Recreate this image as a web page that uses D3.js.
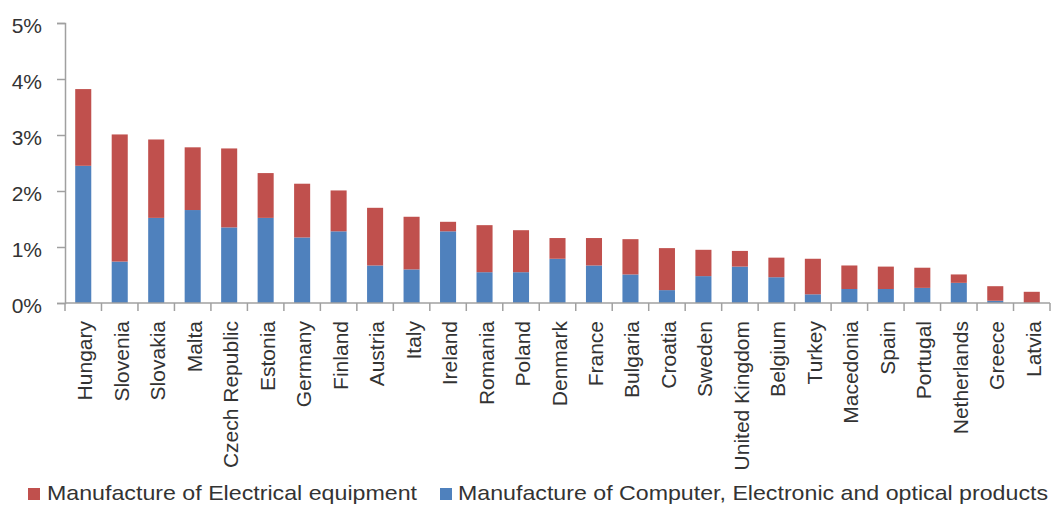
<!DOCTYPE html>
<html>
<head>
<meta charset="utf-8">
<script src="https://cdn.jsdelivr.net/npm/d3@7"></script>
<style>
  html, body { margin: 0; padding: 0; background: #fff; }
  svg { display: block; font-family: "Liberation Sans", Arial, sans-serif; }
</style>
</head>
<body>
<svg id="chart" width="1051" height="505"></svg>
<script>
// Countries, ordered by combined share
const countries = ["Hungary", "Slovenia", "Slovakia", "Malta", "Czech Republic", "Estonia", "Germany",
  "Finland", "Austria", "Italy", "Ireland", "Romania", "Poland", "Denmark", "France", "Bulgaria",
  "Croatia", "Sweden", "United Kingdom", "Belgium", "Turkey", "Macedonia", "Spain", "Portugal",
  "Netherlands", "Greece", "Latvia"];

// Manufacture of Computer, Electronic and optical products (% share)
const computerElectronic = [2.45, 0.74, 1.52, 1.66, 1.35, 1.52, 1.17, 1.28, 0.67, 0.60, 1.28, 0.55,
  0.55, 0.79, 0.67, 0.51, 0.23, 0.48, 0.65, 0.46, 0.155, 0.25, 0.25, 0.27, 0.36, 0.04, 0.00];

// Manufacture of Electrical equipment (% share)
const electrical = [1.37, 2.27, 1.40, 1.12, 1.41, 0.80, 0.96, 0.73, 1.03, 0.94, 0.17, 0.84,
  0.75, 0.37, 0.49, 0.63, 0.75, 0.47, 0.28, 0.35, 0.635, 0.42, 0.40, 0.36, 0.15, 0.26, 0.20];

const yTicks = [0, 1, 2, 3, 4, 5];

const seriesNames = ["Manufacture of Electrical equipment",
  "Manufacture of Computer, Electronic and optical products"];
const colors = { electrical: "#C0504D", computer: "#4F81BD" };

const svg = d3.select("#chart");
const margin = { left: 65, top: 23, right: 1050, bottom: 303 };

const x = d3.scaleBand().domain(countries).range([margin.left, margin.right])
  .paddingInner(0.56).paddingOuter(0.28);
const y = d3.scaleLinear().domain([0, 5]).range([margin.bottom, margin.top]);

const rows = countries.map((c, i) => ({ country: c, computer: computerElectronic[i], electrical: electrical[i] }));
const stacked = d3.stack().keys(["computer", "electrical"])(rows);

// Stacked bars
svg.append("g").selectAll("g").data(stacked).join("g")
  .attr("fill", d => colors[d.key])
  .selectAll("rect").data(d => d).join("rect")
  .attr("x", d => x(d.data.country))
  .attr("width", x.bandwidth())
  .attr("y", d => y(d[1]))
  .attr("height", d => y(d[0]) - y(d[1]));

const axisColor = "#a0a0a0";
const textColor = "#333333";

// Y axis
const yAxis = svg.append("g").attr("transform", `translate(${margin.left},0)`)
  .call(d3.axisLeft(y).tickValues(yTicks).tickSize(8).tickFormat(d => d + "%"));
yAxis.select(".domain").attr("stroke", axisColor).attr("stroke-width", 1.5);
yAxis.selectAll(".tick line").attr("stroke", axisColor).attr("stroke-width", 1.5);
yAxis.selectAll(".tick text").attr("x", -23).attr("dy", "0.45em")
  .attr("font-size", 21).attr("fill", textColor).attr("font-family", "Liberation Sans, Arial, sans-serif");

// X axis baseline with category separators
const xg = svg.append("g");
xg.append("line").attr("x1", margin.left).attr("x2", margin.right)
  .attr("y1", y(0)).attr("y2", y(0)).attr("stroke", axisColor).attr("stroke-width", 1.5);
const step = x.step();
const edges = countries.map(c => x(c) - x.paddingInner() * step / 2).concat([margin.right]);
xg.selectAll("line.sep").data(edges).join("line").attr("class", "sep")
  .attr("x1", d => d).attr("x2", d => d)
  .attr("y1", y(0)).attr("y2", y(0) + 8)
  .attr("stroke", axisColor).attr("stroke-width", 1.5);

// Rotated category labels
xg.selectAll("text").data(countries).join("text")
  .attr("transform", d => `translate(${x(d) + x.bandwidth() / 2},321) rotate(-90)`)
  .attr("text-anchor", "end")
  .attr("dy", "0.43em")
  .attr("font-size", 21)
  .attr("fill", textColor)
  .text(d => d);

// Legend
const legend = svg.append("g");
const legendItems = [
  { name: seriesNames[0], color: colors.electrical, sx: 28, tx: 47, len: 370 },
  { name: seriesNames[1], color: colors.computer, sx: 440, tx: 458, len: 590 }
];
const lg = legend.selectAll("g").data(legendItems).join("g");
lg.append("rect").attr("x", d => d.sx).attr("y", 488).attr("width", 12).attr("height", 12)
  .attr("fill", d => d.color);
lg.append("text").attr("x", d => d.tx).attr("y", 500)
  .attr("font-size", 21).attr("fill", textColor)
  .attr("textLength", d => d.len).attr("lengthAdjust", "spacingAndGlyphs")
  .text(d => d.name);
</script>
</body>
</html>
